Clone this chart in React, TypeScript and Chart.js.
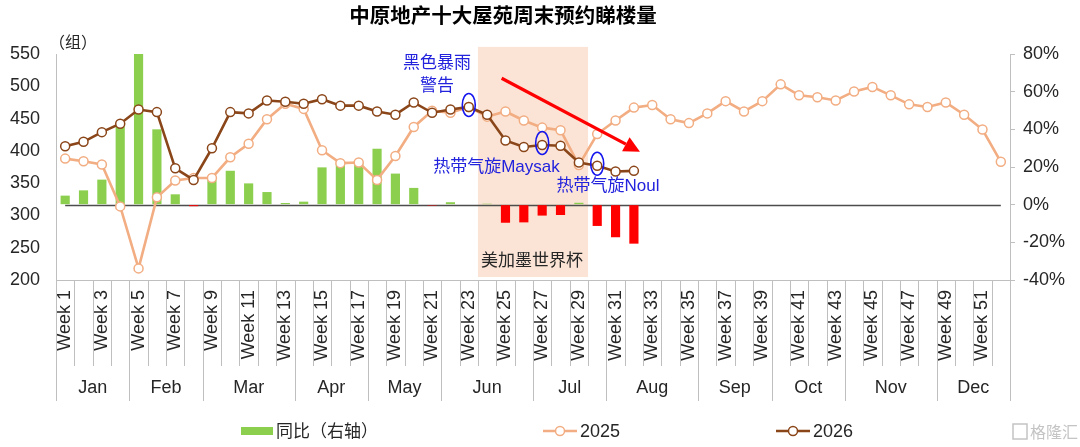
import React, { useEffect, useRef } from "react";
import { Chart, registerables } from "chart.js";
Chart.register(...registerables);

const weekLabels = [
  "Week 1","Week 2","Week 3","Week 4","Week 5","Week 6","Week 7","Week 8","Week 9","Week 10",
  "Week 11","Week 12","Week 13","Week 14","Week 15","Week 16","Week 17","Week 18","Week 19","Week 20",
  "Week 21","Week 22","Week 23","Week 24","Week 25","Week 26","Week 27","Week 28","Week 29","Week 30",
  "Week 31","Week 32","Week 33","Week 34","Week 35","Week 36","Week 37","Week 38","Week 39","Week 40",
  "Week 41","Week 42","Week 43","Week 44","Week 45","Week 46","Week 47","Week 48","Week 49","Week 50",
  "Week 51","Week 52",
];

// month name and number of weeks it spans
const months = ["Jan","Feb","Mar","Apr","May","Jun","Jul","Aug","Sep","Oct","Nov","Dec"];
const monthWeeks = [4, 4, 5, 4, 4, 5, 4, 5, 4, 4, 5, 4];

const yoy = [
  4.8, 7.6, 13.3, 41.4, 113, 40.0, 5.5, -0.8, 13.0, 18.0,
  11.3, 6.7, 0.9, 1.6, 19.8, 21.4, 22.5, 29.7, 16.5, 8.9,
  -0.5, 1.3, 0, 0.5, -9.6, -9.4, -5.8, -5.5, 1.0, -11.3,
  -17.3, -20.7,
];

const v2025 = [
  388, 384, 379, 314, 218, 328, 354, 358, 358, 390,
  411, 449, 473, 465, 401, 381, 382, 355, 392, 437,
  462, 459, 468, 453, 461, 447, 436, 432, 378, 426,
  447, 467, 471, 449, 443, 458, 477, 461, 477, 503,
  486, 483, 478, 492, 499, 486, 472, 468, 475, 456,
  433, 383,
];

const v2026 = [
  407, 414, 429, 442, 464, 460, 373, 355, 404, 460,
  458, 478, 476, 473, 480, 470, 470, 461, 456, 475,
  459, 464, 468, 456, 416, 406, 409, 408, 382, 377,
  368, 369,
];

const leftTicks = [200, 550, 50];
const rightTicks = [-40, 80, 20];

const TITLE = "中原地产十大屋苑周末预约睇楼量";
const UNIT = "（组）";
const SHADE_LABEL = "美加墨世界杯";
const shadeWeeks = [24, 29];
const LEGEND_BAR = "同比（右轴）";
const LEGEND_2025 = "2025";
const LEGEND_2026 = "2026";

const LATIN = "'Liberation Sans', Arial, 'Noto Sans CJK SC', sans-serif";
const CJK = "'Noto Sans CJK SC', 'Liberation Sans', sans-serif";

const C_GREEN = "#8ccf4e";
const C_RED = "#ff0000";
const C_2025 = "#f2ad82";
const C_2026 = "#8a4518";
const C_GRID = "#bfbfbf";
const C_TEXT = "#262626";
const C_BLUE = "#2323dd";

const decor = {
  id: "decor",
  beforeDatasetsDraw(chart: any) {
    const { ctx, scales } = chart;
    const x = scales.x, y = scales.y, y1 = scales.y1;
    ctx.save();
    // shaded World Cup period
    const sx0 = x.getPixelForValue(shadeWeeks[0] - 1 - 0.5);
    const sx1 = x.getPixelForValue(shadeWeeks[1] - 1 + 0.5);
    const sy0 = y.getPixelForValue(561);
    const sy1 = y.getPixelForValue(204.6);
    ctx.fillStyle = "#fbe4d5";
    ctx.fillRect(sx0, sy0, sx1 - sx0, sy1 - sy0);
    // zero line for right axis
    const zy = Math.round(y1.getPixelForValue(0)) + 0.5;
    ctx.strokeStyle = "#4d4d4d";
    ctx.lineWidth = 1.4;
    ctx.beginPath();
    ctx.moveTo(x.getPixelForValue(0), zy);
    ctx.lineTo(x.getPixelForValue(weekLabels.length - 1), zy);
    ctx.stroke();
    ctx.restore();
  },
  afterDatasetsDraw(chart: any) {
    const { ctx, scales } = chart;
    const x = scales.x, y = scales.y;
    ctx.save();
    // label in shaded region
    ctx.font = `17px ${CJK}`;
    ctx.fillStyle = C_TEXT;
    ctx.textAlign = "center";
    ctx.textBaseline = "middle";
    ctx.fillText(SHADE_LABEL, x.getPixelForValue(25.45), y.getPixelForValue(231));

    // blue annotations
    ctx.fillStyle = C_BLUE;
    ctx.font = `17px ${LATIN}`;
    ctx.fillText("黑色暴雨", x.getPixelForValue(20.27), y.getPixelForValue(536));
    ctx.fillText("警告", x.getPixelForValue(20.27), y.getPixelForValue(499.4));
    ctx.fillText("热带气旋Maysak", x.getPixelForValue(23.51), y.getPixelForValue(375));
    ctx.fillText("热带气旋Noul", x.getPixelForValue(29.59), y.getPixelForValue(345.6));

    // ellipses
    ctx.strokeStyle = "#1515ee";
    ctx.lineWidth = 1.6;
    [22, 26, 29].forEach((i) => {
      ctx.beginPath();
      ctx.ellipse(x.getPixelForValue(i), y.getPixelForValue(v2026[i]) - 2, 6.5, 11.5, 0, 0, Math.PI * 2);
      ctx.stroke();
    });

    // red arrow
    const ax0 = x.getPixelForValue(23.79), ay0 = y.getPixelForValue(512.4);
    const ax1 = x.getPixelForValue(31.33), ay1 = y.getPixelForValue(398.7);
    const ang = Math.atan2(ay1 - ay0, ax1 - ax0);
    const hl = 16, hw = 8;
    const bx = ax1 - hl * Math.cos(ang), by = ay1 - hl * Math.sin(ang);
    ctx.strokeStyle = "#ff0000";
    ctx.fillStyle = "#ff0000";
    ctx.lineWidth = 3.2;
    ctx.beginPath();
    ctx.moveTo(ax0, ay0);
    ctx.lineTo(bx, by);
    ctx.stroke();
    ctx.beginPath();
    ctx.moveTo(ax1, ay1);
    ctx.lineTo(bx + hw * Math.sin(ang), by - hw * Math.cos(ang));
    ctx.lineTo(bx - hw * Math.sin(ang), by + hw * Math.cos(ang));
    ctx.closePath();
    ctx.fill();
    ctx.restore();
  },
  afterDraw(chart: any) {
    const { ctx, chartArea, scales } = chart;
    const x = scales.x;
    ctx.save();
    // title
    ctx.fillStyle = "#000";
    ctx.font = `bold 20.5px ${CJK}`;
    ctx.textAlign = "center";
    ctx.textBaseline = "middle";
    ctx.fillText(TITLE, 503, 15);
    // unit
    ctx.fillStyle = C_TEXT;
    ctx.font = `16px ${CJK}`;
    ctx.textAlign = "left";
    ctx.fillText(UNIT, 49, 42);

    // category tick lines and month separators
    const bottom = chartArea.bottom;
    const boundaries = new Set<number>();
    let acc = 0;
    boundaries.add(0);
    monthWeeks.forEach((n) => { acc += n; boundaries.add(acc); });
    ctx.strokeStyle = C_GRID;
    ctx.lineWidth = 1;
    for (let i = 0; i <= weekLabels.length; i++) {
      const px = Math.round(x.getPixelForValue(i - 0.5)) + 0.5;
      ctx.beginPath();
      ctx.moveTo(px, bottom);
      ctx.lineTo(px, boundaries.has(i) ? bottom + 121 : bottom + 86);
      ctx.stroke();
    }
    // month labels
    ctx.fillStyle = C_TEXT;
    ctx.font = `18px ${LATIN}`;
    ctx.textAlign = "center";
    acc = 0;
    months.forEach((m, k) => {
      const s = acc, e = acc + monthWeeks[k] - 1;
      acc += monthWeeks[k];
      const cx = (x.getPixelForValue(s) + x.getPixelForValue(e)) / 2;
      ctx.fillText(m, cx, bottom + 108);
    });

    // legend
    const ly = 431;
    ctx.fillStyle = C_GREEN;
    ctx.fillRect(241, ly - 4, 32, 8);
    ctx.fillStyle = C_TEXT;
    ctx.textAlign = "left";
    ctx.font = `17px ${CJK}`;
    ctx.fillText(LEGEND_BAR, 276, ly);
    const drawLineKey = (x0: number, color: string, label: string) => {
      ctx.strokeStyle = color;
      ctx.lineWidth = 2.5;
      ctx.beginPath();
      ctx.moveTo(x0, ly);
      ctx.lineTo(x0 + 34, ly);
      ctx.stroke();
      ctx.beginPath();
      ctx.arc(x0 + 17, ly, 4.5, 0, Math.PI * 2);
      ctx.fillStyle = "#fff";
      ctx.fill();
      ctx.lineWidth = 1.5;
      ctx.stroke();
      ctx.fillStyle = C_TEXT;
      ctx.font = `18px ${LATIN}`;
      ctx.fillText(label, x0 + 37, ly + 1);
    };
    drawLineKey(543, C_2025, LEGEND_2025);
    drawLineKey(776, C_2026, LEGEND_2026);

    // watermark
    ctx.strokeStyle = "#c4c4c4";
    ctx.lineWidth = 1.5;
    ctx.strokeRect(1013, 424, 14, 15);
    ctx.fillStyle = "#c4c4c4";
    ctx.font = `16px ${CJK}`;
    ctx.fillText("格隆汇", 1030, ly + 1);
    ctx.restore();
  },
};

export default function App() {
  const ref = useRef<HTMLCanvasElement | null>(null);
  useEffect(() => {
    if (!ref.current) return;
    Chart.defaults.font.family = LATIN;
    Chart.defaults.color = C_TEXT;
    const chart = new Chart(ref.current, {
      type: "bar",
      data: {
        labels: weekLabels,
        datasets: [
          {
            type: "line",
            label: LEGEND_2026,
            data: v2026,
            yAxisID: "y",
            borderColor: C_2026,
            borderWidth: 2.6,
            pointRadius: 4.5,
            pointBorderWidth: 1.5,
            pointBackgroundColor: "#ffffff",
            pointBorderColor: C_2026,
            tension: 0,
            order: 1,
          } as any,
          {
            type: "line",
            label: LEGEND_2025,
            data: v2025,
            yAxisID: "y",
            borderColor: C_2025,
            borderWidth: 2.6,
            pointRadius: 4.5,
            pointBorderWidth: 1.5,
            pointBackgroundColor: "#ffffff",
            pointBorderColor: C_2025,
            tension: 0,
            order: 2,
          } as any,
          {
            type: "bar",
            label: LEGEND_BAR,
            data: yoy,
            yAxisID: "y1",
            backgroundColor: yoy.map((v) => (v < 0 ? C_RED : C_GREEN)),
            barPercentage: 0.5,
            categoryPercentage: 1,
            order: 3,
          } as any,
        ],
      },
      options: {
        animation: false,
        responsive: true,
        maintainAspectRatio: false,
        layout: { padding: { top: 54, left: 0, right: 0, bottom: 0 } },
        plugins: {
          legend: { display: false },
          title: { display: false },
          tooltip: { enabled: false },
        },
        scales: {
          x: {
            type: "category",
            offset: true,
            grid: { display: false, drawTicks: false },
            border: { display: true, color: C_GRID, width: 1 },
            ticks: {
              autoSkip: false,
              maxRotation: 90,
              minRotation: 90,
              padding: 10,
              color: C_TEXT,
              font: { size: 18, family: LATIN },
              callback: (_v: any, i: number) => (i % 2 === 0 ? weekLabels[i] : ""),
            },
            afterFit: (s: any) => { s.height = 167; },
          },
          y: {
            position: "left",
            min: leftTicks[0],
            max: leftTicks[1],
            grid: { display: false, drawTicks: false },
            border: { display: true, color: C_GRID, width: 1 },
            ticks: {
              stepSize: leftTicks[2],
              padding: 16,
              color: C_TEXT,
              font: { size: 18, family: LATIN },
            },
            afterFit: (s: any) => { s.width = 56; },
          },
          y1: {
            position: "right",
            min: rightTicks[0],
            max: rightTicks[1],
            grid: { display: true, drawOnChartArea: false, drawTicks: true, tickLength: 5, color: C_GRID },
            border: { display: true, color: C_GRID, width: 1 },
            ticks: {
              stepSize: rightTicks[2],
              padding: 8,
              color: C_TEXT,
              font: { size: 18, family: LATIN },
              callback: (v: any) => `${v}%`,
            },
            afterFit: (s: any) => { s.width = 70; },
          },
        },
      },
      plugins: [decor],
    });
    return () => chart.destroy();
  }, []);
  return (
    <div style={{ position: "fixed", left: 0, top: 0, width: 1080, height: 447, background: "#fff" }}>
      <canvas ref={ref} />
    </div>
  );
}
